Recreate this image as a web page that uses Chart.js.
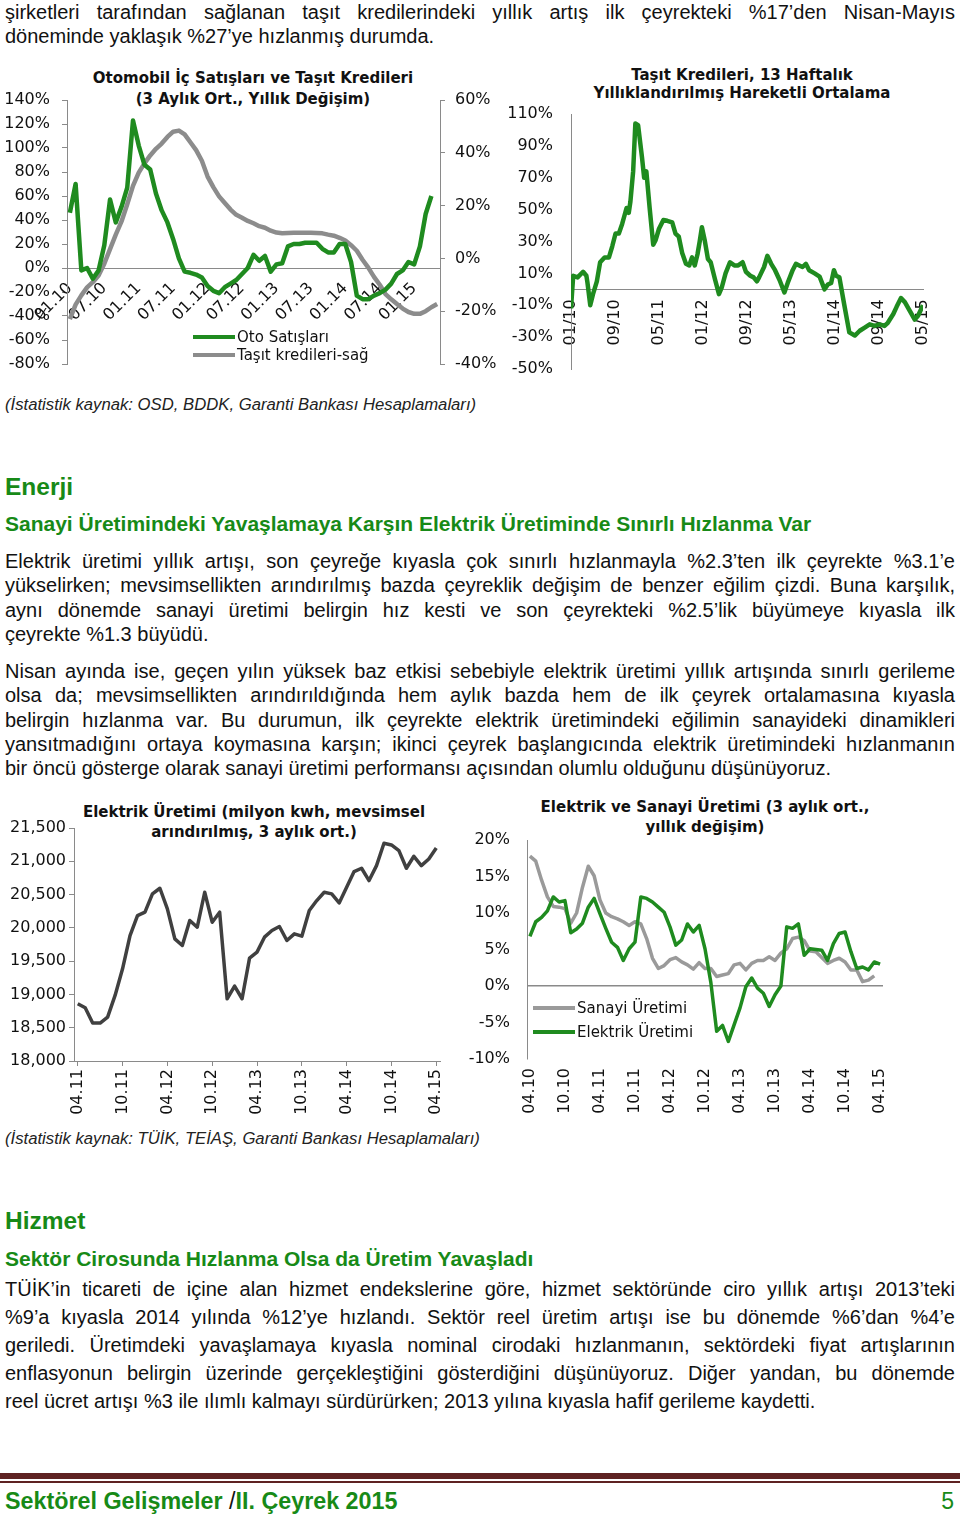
<!DOCTYPE html>
<html lang="tr">
<head>
<meta charset="utf-8">
<title>Sektörel Gelişmeler</title>
<script src="https://cdn.jsdelivr.net/npm/chart.js@4.4.1/dist/chart.umd.min.js"></script>
<style>
  html, body { margin: 0; padding: 0; background: #fff; }
  body { width: 960px; height: 1520px; position: relative; overflow: hidden;
         font-family: 'Liberation Sans', Arial, sans-serif; color: #111; }
  .para { position: absolute; left: 5px; width: 950px; font-size: 20px; }
  .para div { text-align: justify; text-align-last: justify; }
  .para div.last { text-align-last: left; }
  .green { color: #178a17; font-weight: bold; position: absolute; left: 5px; white-space: nowrap; }
  .src { position: absolute; left: 5px; font-size: 16.7px; font-style: italic; line-height: 20px; color: #222; }
  .ct { position: absolute; width: 420px; text-align: center; font-family: 'DejaVu Sans', Verdana, sans-serif;
        font-weight: bold; font-size: 15px; color: #111; white-space: nowrap; }
  .lg { position: absolute; height: 18px; line-height: 18px; font-family: 'DejaVu Sans', Verdana, sans-serif;
        font-size: 15px; color: #111; white-space: nowrap; }
  .lg i { position: absolute; left: 0; top: 7px; width: 42px; height: 4px; }
  .lg span { position: absolute; left: 44px; top: 0; }
  canvas { position: absolute; }
</style>
</head>
<body>

<div class="para" style="top:0;line-height:24px">
  <div>şirketleri tarafından sağlanan taşıt kredilerindeki yıllık artış ilk çeyrekteki %17’den Nisan-Mayıs</div>
  <div class="last">döneminde yaklaşık %27’ye hızlanmış durumda.</div>
</div>

<div class="ct" style="left:43px;top:68px;line-height:21px">Otomobil İç Satışları ve Taşıt Kredileri<br>(3 Aylık Ort., Yıllık Değişim)</div>
<div class="ct" style="left:532px;top:66px;line-height:18px">Taşıt Kredileri, 13 Haftalık<br>Yıllıklandırılmış Hareketli Ortalama</div>
<canvas id="c1" width="500" height="292" style="left:0;top:88px"></canvas>
<canvas id="c2" width="460" height="280" style="left:500px;top:100px"></canvas>
<div class="lg" style="left:193px;top:328px"><i style="background:#1f8b1f"></i><span>Oto Satışları</span></div>
<div class="lg" style="left:193px;top:346px"><i style="background:#8c8c8c"></i><span>Taşıt kredileri-sağ</span></div>

<div class="src" style="top:395px">(İstatistik kaynak: OSD, BDDK, Garanti Bankası Hesaplamaları)</div>

<div class="green" style="top:472px;font-size:24.5px;line-height:30px">Enerji</div>
<div class="green" style="top:511px;font-size:21px;line-height:26px">Sanayi Üretimindeki Yavaşlamaya Karşın Elektrik Üretiminde Sınırlı Hızlanma Var</div>

<div class="para" style="top:549px;line-height:24.4px">
  <div>Elektrik üretimi yıllık artışı, son çeyreğe kıyasla çok sınırlı hızlanmayla %2.3’ten ilk çeyrekte %3.1’e</div>
  <div>yükselirken; mevsimsellikten arındırılmış bazda çeyreklik değişim de benzer eğilim çizdi. Buna karşılık,</div>
  <div>aynı dönemde sanayi üretimi belirgin hız kesti ve son çeyrekteki %2.5’lik büyümeye kıyasla ilk</div>
  <div class="last">çeyrekte %1.3 büyüdü.</div>
</div>
<div class="para" style="top:659px;line-height:24.25px">
  <div>Nisan ayında ise, geçen yılın yüksek baz etkisi sebebiyle elektrik üretimi yıllık artışında sınırlı gerileme</div>
  <div>olsa da; mevsimsellikten arındırıldığında hem aylık bazda hem de ilk çeyrek ortalamasına kıyasla</div>
  <div>belirgin hızlanma var. Bu durumun, ilk çeyrekte elektrik üretimindeki eğilimin sanayideki dinamikleri</div>
  <div>yansıtmadığını ortaya koymasına karşın; ikinci çeyrek başlangıcında elektrik üretimindeki hızlanmanın</div>
  <div class="last">bir öncü gösterge olarak sanayi üretimi performansı açısından olumlu olduğunu düşünüyoruz.</div>
</div>

<div class="ct" style="left:44px;top:802px;line-height:20px">Elektrik Üretimi (milyon kwh, mevsimsel<br>arındırılmış, 3 aylık ort.)</div>
<div class="ct" style="left:495px;top:797px;line-height:20px">Elektrik ve Sanayi Üretimi (3 aylık ort.,<br>yıllık değişim)</div>
<canvas id="c3" width="460" height="310" style="left:0;top:815px"></canvas>
<canvas id="c4" width="500" height="300" style="left:460px;top:825px"></canvas>
<div class="lg" style="left:533px;top:999px"><i style="background:#9a9a9a"></i><span>Sanayi Üretimi</span></div>
<div class="lg" style="left:533px;top:1023px"><i style="background:#1f8b1f"></i><span>Elektrik Üretimi</span></div>

<div class="src" style="top:1129px">(İstatistik kaynak: TÜİK, TEİAŞ, Garanti Bankası Hesaplamaları)</div>

<div class="green" style="top:1206px;font-size:24.5px;line-height:30px">Hizmet</div>
<div class="green" style="top:1246px;font-size:21px;line-height:26px">Sektör Cirosunda Hızlanma Olsa da Üretim Yavaşladı</div>

<div class="para" style="top:1275px;line-height:28px">
  <div>TÜİK’in ticareti de içine alan hizmet endekslerine göre, hizmet sektöründe ciro yıllık artışı 2013’teki</div>
  <div>%9’a kıyasla 2014 yılında %12’ye hızlandı. Sektör reel üretim artışı ise bu dönemde %6’dan %4’e</div>
  <div>geriledi. Üretimdeki yavaşlamaya kıyasla nominal cirodaki hızlanmanın, sektördeki fiyat artışlarının</div>
  <div>enflasyonun belirgin üzerinde gerçekleştiğini gösterdiğini düşünüyoruz. Diğer yandan, bu dönemde</div>
  <div class="last">reel ücret artışı %3 ile ılımlı kalmayı sürdürürken; 2013 yılına kıyasla hafif gerileme kaydetti.</div>
</div>

<div style="position:absolute;left:0;top:1473px;width:960px;height:6px;background:#5e2222"></div>
<div style="position:absolute;left:0;top:1481px;width:960px;height:2px;background:#5e2222"></div>
<div class="green" style="top:1488px;font-size:23.3px;line-height:26px">Sektörel Gelişmeler <span style="color:#111;font-weight:normal">/</span>II. Çeyrek 2015</div>
<div style="position:absolute;right:6px;top:1488px;font-size:23px;line-height:26px;color:#178a17">5</div>

<script>
// ── Data ─────────────────────────────────────────────────────────────────────
function monthLabels(m0, y0, n, sep) {
  var out = [];
  for (var i = 0; i < n; i++) {
    var m = (m0 - 1 + i) % 12 + 1;
    var y = (y0 + Math.floor((m0 - 1 + i) / 12)) % 100;
    out.push((m < 10 ? '0' : '') + m + sep + (y < 10 ? '0' : '') + y);
  }
  return out;
}

// Otomobil iç satışları / taşıt kredileri, 01.10 - 05.15
var otoAylar  = monthLabels(1, 2010, 65, '.');
var otoEtiket = ['01.10','07.10','01.11','07.11','01.12','07.12','01.13','07.13','01.14','07.14','01.15'];
var otoSatis  = [46,70,-2,0,-9,-2,19,57,38,51, 67,123,102,86,82,62,48,38,24,8,
                 -3,-4,-5.5,-8,-15,-19,-21,-16,-13,-10, -5,0,11,6,10,-3,3,4,18,20,
                 20,21,21,21,16,13,13,20,20,5, -23,-26,-26,-23,-21,-18,-13,-5,-2,5,
                 3,18,45,60,null];
var otoKredi  = [-23,-17.5,-14,-11,-9,-6.5,-2,3.5,9,14, 20.5,27.5,32.5,36,39,41.5,43.5,46,48,48.4,
                 47,44,41,37,31,27,23.5,21,18.5,16.5, 15.4,14.2,13.3,12.2,11.6,10.5,9.8,9.5,9.6,9.7,
                 9.7,9.7,9.7,9.6,9.5,9,8.6,7.8,6.8,5, 2.9,-0.5,-3.5,-7,-10,-13.5,-15.5,-17.3,-19,-20.3,
                 -21,-21,-20,-18.5,-17.3];

// Taşıt kredileri 13 haftalık (x: 01/10'dan itibaren ay)
var kredi13Etiket = ['01/10','09/10','05/11','01/12','09/12','05/13','01/14','09/14','05/15'];
var kredi13Ay = [0,0.4,1.2,2.2,2.8,3.0,3.5,4.0,4.7,5.3, 6.1,6.9,7.5,8.1,8.7,9.3,9.7,10.1,10.5,10.8,
                 11.3,11.7,12.2,12.9,13.3,13.7,14.3,14.95,15.4,16, 16.8,17.5,18.4,19,19.6,20.2,20.9,21.5,22,22.5,
                 23,23.4,23.8,24.3,24.9,25.4,26.2,26.9,27.4,28.1, 28.9,29.7,30.4,31.2,31.8,32.6,33.2,33.8,34.2,35.1,
                 35.7,36.4,37.1,37.9,38.8,39.4,40.3,40.9,41.5,42.1, 42.7,43.3,44.3,45.2,46.1,46.7,47.3,47.8,48.2,48.8,
                 49.7,50.6,51.6,52.5,53.4,54.3,55.2,56.1,57,57.6, 58.6,59.2,60,60.7,61.6,62.5,63.1,64];
var kredi13Deger = [-12,8.5,7.5,11,8.5,4,-10,-3,5,17, 20,20,27,35,35,41,46,51,48,55,
                    74,104,103,83,70,74,51,28,31,38, 43.5,43,42,35,33,23,16,15,20,15,
                    22,30,39,31,19,17,6,-3,1,10, 17,15,15,17,11,8.5,7.5,5,7.5,14,
                    21,16,12,6,-2,4,12,16,15,14, 16,12,10,8,0,3,4,12,8.5,7.5,
                    -10,-27,-29,-26,-24,-22,-23,-22,-23,-21, -15.5,-11,-5.5,-8,-13.5,-19,-16.6,-10];

// Elektrik üretimi (milyon kwh), 04.11 - 04.15
var elkAylar = monthLabels(4, 2011, 49, '.');
var elkUretim = [18860,18800,18570,18570,18660,18985,19385,19885,20185,20235,
                 20510,20595,20285,19835,19735,20110,20010,20535,20085,20235,
                 18935,19125,18935,19545,19635,19860,19960,20020,19810,19910,
                 19875,20260,20410,20535,20510,20375,20610,20845,20895,20710,
                 20935,21270,21245,21160,20895,21075,20935,21035,21200];

// Elektrik ve sanayi üretimi yıllık değişim, 04.10 - 04.15
var esAylar = monthLabels(4, 2010, 61, '.');
var sanayi = [17.8,17.1,14.5,12.2,10.9,10.8,10.6,8.6,10,13.5, 16.4,15.1,11.8,10,9.5,9.2,8.8,8.3,8.8,8.5,
              6.5,3.8,2.4,2.8,3.6,3.9,3.3,2.9,2.3,3.2, 2.4,2.4,1.3,1.5,1.7,2.9,3.1,2.2,3.1,3.5,
              3.5,4,3.5,4.5,5.1,6.5,6.7,6.2,4.8,4.7, 3.9,3.1,3.5,3.8,3.3,2.2,2.2,0.6,0.8,1.4, null];
var elektrik = [6.8,8.8,9.4,10.3,12.2,11.5,11.7,7.3,7.8,8.6, 10.8,12,9.9,7.9,6,5.3,3.5,5.1,6,12.2,
                12,11.5,10.8,10.1,8.1,5.6,6.3,8.5,7.4,8.3, 5.1,0.5,-6.2,-5.4,-7.6,-5.3,-3,-0.1,1.1,-0.3,
                -1,-2.8,-1.2,0,8.1,7.9,8.5,4.2,5.1,5, 4.9,3.5,5.8,7.2,7.4,4.7,2.4,2.6,2.2,3.3, 3];

// ── Common ───────────────────────────────────────────────────────────────────
var GREEN = '#1f8b1f';
var AXIS  = '#8a8a8a';
Chart.defaults.font.family = "'DejaVu Sans', Verdana, sans-serif";
Chart.defaults.font.size = 16;
Chart.defaults.color = '#111';
Chart.defaults.animation = false;
Chart.defaults.responsive = false;
Chart.defaults.plugins.legend.display = false;
Chart.defaults.plugins.tooltip.enabled = false;
Chart.defaults.elements.point.radius = 0;
Chart.defaults.elements.line.tension = 0;
Chart.defaults.elements.line.borderJoinStyle = 'round';

// fixed axis sizes; label padding is dropped so the plot area sits where the layout padding says
function fixW(w) { return function (s) { s.width = w; s.paddingTop = 0; s.paddingBottom = 0; }; }
function fixH(h) { return function (s) { s.height = h; s.paddingLeft = 0; s.paddingRight = 0; }; }
function pct(v) { return v + '%'; }
function every6(labels) {
  return function (v, i) { return i % 6 === 0 ? labels[i] : ''; };
}

// ── Chart 1: Otomobil satışları ve taşıt kredileri ──────────────────────────
new Chart(document.getElementById('c1'), {
  type: 'line',
  data: {
    labels: otoAylar,
    datasets: [
      { label: 'Oto Satışları', data: otoSatis, yAxisID: 'y', borderColor: GREEN, borderWidth: 4.5 },
      { label: 'Taşıt kredileri-sağ', data: otoKredi, yAxisID: 'y1', borderColor: '#8c8c8c', borderWidth: 4.5 }
    ]
  },
  options: {
    layout: { autoPadding: false, padding: { top: 12, bottom: 16, left: 0, right: 0 } },
    scales: {
      x: {
        type: 'category', offset: true, position: { y: 0 }, afterFit: fixH(0),
        grid: { display: false, drawTicks: false }, border: { color: AXIS },
        ticks: {
          autoSkip: false, minRotation: 45, maxRotation: 45, padding: 11,
          callback: function (v, i) { return otoEtiket.indexOf(otoAylar[i]) >= 0 ? otoAylar[i] : ''; }
        }
      },
      y: {
        position: 'left', min: -80, max: 140, afterFit: fixW(67),
        ticks: { stepSize: 20, padding: 12, callback: pct },
        grid: { drawOnChartArea: false, tickLength: 5, color: AXIS }, border: { color: AXIS }
      },
      y1: {
        position: 'right', min: -40, max: 60, afterFit: fixW(60),
        ticks: { stepSize: 20, padding: 10, callback: pct },
        grid: { drawOnChartArea: false, tickLength: 5, color: AXIS }, border: { color: AXIS }
      }
    }
  }
});

// ── Chart 2: Taşıt kredileri 13 haftalık ─────────────────────────────────────
var kredi13Noktalar = [];
for (var i = 0; i < kredi13Ay.length; i++) kredi13Noktalar.push({ x: kredi13Ay[i], y: kredi13Deger[i] });

new Chart(document.getElementById('c2'), {
  type: 'line',
  data: { datasets: [{ label: 'Taşıt Kredileri', data: kredi13Noktalar, borderColor: GREEN, borderWidth: 4.5 }] },
  options: {
    layout: { autoPadding: false, padding: { top: 14, bottom: 11, left: 0, right: 37 } },
    scales: {
      x: {
        type: 'linear', min: 0, max: 64, position: { y: 0 }, afterFit: fixH(0),
        grid: { display: false, drawTicks: false }, border: { color: AXIS },
        ticks: {
          stepSize: 8, autoSkip: false, minRotation: 90, maxRotation: 90, padding: 10,
          callback: function (v) { return kredi13Etiket[Math.round(v / 8)]; }
        }
      },
      y: {
        min: -50, max: 110, afterFit: fixW(71),
        ticks: { stepSize: 20, padding: 18, callback: pct },
        grid: { display: false, drawTicks: false }, border: { color: AXIS }
      }
    }
  }
});

// ── Chart 3: Elektrik üretimi ───────────────────────────────────────────────
new Chart(document.getElementById('c3'), {
  type: 'line',
  data: { labels: elkAylar, datasets: [{ label: 'Elektrik Üretimi', data: elkUretim, borderColor: '#404040', borderWidth: 3.5 }] },
  options: {
    layout: { autoPadding: false, padding: { top: 13, bottom: 0, left: 0, right: 20 } },
    scales: {
      x: {
        type: 'category', offset: true, afterFit: fixH(64),
        grid: {
          drawOnChartArea: false, tickLength: 5,
          color: function (c) { return c.index % 6 === 0 ? AXIS : 'rgba(0,0,0,0)'; }
        },
        border: { color: AXIS },
        ticks: { autoSkip: false, minRotation: 90, maxRotation: 90, padding: 3, callback: every6(elkAylar) }
      },
      y: {
        min: 18000, max: 21500, afterFit: fixW(74),
        ticks: { stepSize: 500, padding: 3, callback: function (v) { return v.toLocaleString('en-US'); } },
        grid: { drawOnChartArea: false, tickLength: 5, color: AXIS }, border: { color: AXIS }
      }
    }
  }
});

// ── Chart 4: Elektrik ve sanayi üretimi ─────────────────────────────────────
new Chart(document.getElementById('c4'), {
  type: 'line',
  data: {
    labels: esAylar,
    datasets: [
      { label: 'Elektrik Üretimi', data: elektrik, borderColor: GREEN, borderWidth: 3.5 },
      { label: 'Sanayi Üretimi', data: sanayi, borderColor: '#9a9a9a', borderWidth: 3.5 }
    ]
  },
  options: {
    layout: { autoPadding: false, padding: { top: 15, bottom: 0, left: 0, right: 77 } },
    scales: {
      x: {
        type: 'category', offset: true, afterFit: fixH(66),
        grid: { display: false, drawTicks: false }, border: { display: false },
        ticks: { autoSkip: false, minRotation: 90, maxRotation: 90, padding: 9, callback: every6(esAylar) }
      },
      y: {
        min: -10, max: 20, afterFit: fixW(67),
        ticks: { stepSize: 5, padding: 17, callback: pct },
        grid: {
          drawTicks: false, lineWidth: 1.5,
          color: function (c) { return c.tick && c.tick.value === 0 ? AXIS : 'rgba(0,0,0,0)'; }
        },
        border: { color: AXIS }
      }
    }
  }
});
</script>
</body>
</html>
